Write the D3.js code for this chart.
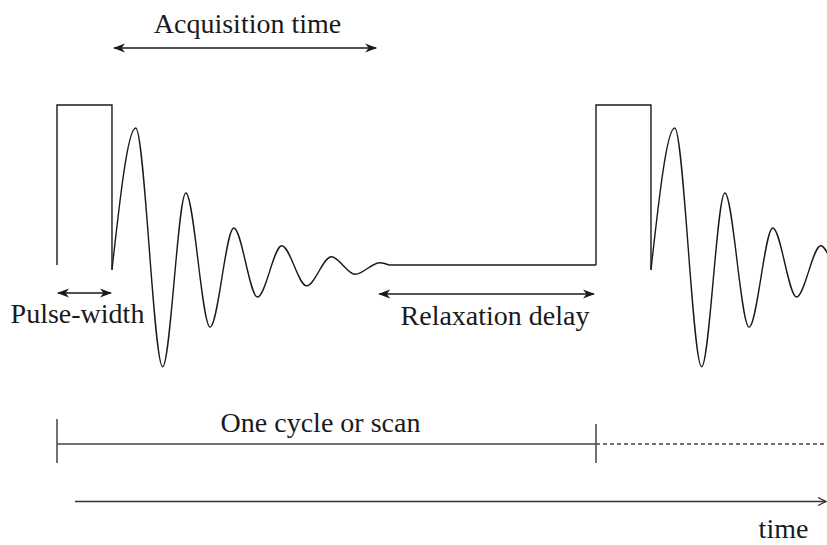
<!DOCTYPE html>
<html><head><meta charset="utf-8">
<script src="https://cdn.jsdelivr.net/npm/d3@7"></script>
<style>html,body{margin:0;padding:0;background:#fff;} svg{display:block;}</style>
</head><body>
<svg id="chart" width="827" height="545"></svg>
<script>
// ---- data (time in arbitrary units, one scan = 100; amplitude relative to pulse height = 1) ----
const cycleLength = 100;
const pulseWidth = 10.2;
const pulseHeight = 1;
const cycles = [0, 1];
const fidTimes = [10.2, 14.6, 19.6, 23.9, 28.4, 32.8, 37.2, 41.7, 46.3, 50.9, 55.3, 59.9, 61.6];
const fidAmps  = [-0.03, 0.856, -0.636, 0.45, -0.388, 0.231, -0.2, 0.12, -0.13, 0.052, -0.058, 0.014, 0];
const spanLabels = ["Acquisition time", "Pulse-width", "Relaxation delay"];
const spanFrom   = [10.4, 0, 59.6];
const spanTo     = [59.4, 10.2, 99.8];
const cycleLabel = "One cycle or scan";
const timeLabel = "time";

// ---- layout ----
const W = 827, H = 545;
const svg = d3.select("#chart");
const x = d3.scaleLinear().domain([0, cycleLength]).range([57, 596]);
const y = d3.scaleLinear().domain([0, pulseHeight]).range([265, 105]);
const ink = "#1a1a1a";
const font = "'Liberation Serif','Times New Roman',serif";

const defs = svg.append("defs");
defs.append("marker").attr("id", "arr")
  .attr("viewBox", "0 -5 12 10").attr("refX", 11).attr("refY", 0)
  .attr("markerUnits", "userSpaceOnUse").attr("markerWidth", 12).attr("markerHeight", 10)
  .attr("orient", "auto-start-reverse")
  .append("path").attr("d", "M0,-4.5L12,0L0,4.5L3.5,0Z").attr("fill", ink);
defs.append("marker").attr("id", "openarr")
  .attr("viewBox", "0 -5 9 10").attr("refX", 8).attr("refY", 0)
  .attr("markerUnits", "userSpaceOnUse").attr("markerWidth", 9).attr("markerHeight", 10)
  .attr("orient", "auto")
  .append("path").attr("d", "M0,-4L8,0L0,4").attr("fill", "none").attr("stroke", "#333").attr("stroke-width", 1.2);

const lin = d3.line().x(d => x(d[0])).y(d => y(d[1]));
const smooth = d3.line().x(d => x(d[0])).y(d => y(d[1])).curve(d3.curveMonotoneX);
const fid = fidTimes.map((t, i) => [t, fidAmps[i]]);

cycles.forEach(k => {
  const t0 = k * cycleLength;
  // RF pulse
  svg.append("path")
    .attr("d", lin([[t0, 0], [t0, pulseHeight], [t0 + pulseWidth, pulseHeight], [t0 + pulseWidth, fidAmps[0]]]))
    .attr("fill", "none").attr("stroke", ink).attr("stroke-width", 1.4);
  // FID
  svg.append("path")
    .attr("d", smooth(fid.map(d => [d[0] + t0, d[1]])))
    .attr("fill", "none").attr("stroke", ink).attr("stroke-width", 1.4);
  // relaxation baseline
  svg.append("path")
    .attr("d", lin([[t0 + fidTimes[fidTimes.length - 1], 0], [t0 + cycleLength, 0]]))
    .attr("fill", "none").attr("stroke", ink).attr("stroke-width", 1.4);
});

// span arrows
const arrowY = [48, 293, 294];
const labelX = [247.5, 77.5, 495];
const labelY = [33, 323, 325];
spanLabels.forEach((lab, i) => {
  svg.append("line")
    .attr("x1", x(spanFrom[i]) + 1).attr("x2", x(spanTo[i]) - 1)
    .attr("y1", arrowY[i]).attr("y2", arrowY[i])
    .attr("stroke", ink).attr("stroke-width", 1.6)
    .attr("marker-start", "url(#arr)").attr("marker-end", "url(#arr)");
  svg.append("text").attr("x", labelX[i]).attr("y", labelY[i])
    .attr("text-anchor", "middle").attr("font-family", font).attr("font-size", 28)
    .attr("fill", ink).text(lab);
});

// one cycle bar
const cy = 444;
svg.append("line").attr("x1", x(0)).attr("x2", x(cycleLength)).attr("y1", cy).attr("y2", cy)
  .attr("stroke", "#444").attr("stroke-width", 1.5);
svg.append("line").attr("x1", x(cycleLength)).attr("x2", W).attr("y1", cy).attr("y2", cy)
  .attr("stroke", "#444").attr("stroke-width", 1.3).attr("stroke-dasharray", "4,3");
svg.append("line").attr("x1", x(0)).attr("x2", x(0)).attr("y1", 419).attr("y2", 463)
  .attr("stroke", "#444").attr("stroke-width", 1.5);
svg.append("line").attr("x1", x(cycleLength)).attr("x2", x(cycleLength)).attr("y1", 424).attr("y2", 463)
  .attr("stroke", "#444").attr("stroke-width", 1.5);
svg.append("text").attr("x", 320.5).attr("y", 432)
  .attr("text-anchor", "middle").attr("font-family", font).attr("font-size", 28)
  .attr("fill", ink).text(cycleLabel);

// time axis
svg.append("line").attr("x1", 75).attr("x2", 826).attr("y1", 501.5).attr("y2", 501.5)
  .attr("stroke", "#333").attr("stroke-width", 1.4).attr("marker-end", "url(#openarr)");
svg.append("text").attr("x", 783.5).attr("y", 538)
  .attr("text-anchor", "middle").attr("font-family", font).attr("font-size", 28)
  .attr("fill", ink).text(timeLabel);
</script>
</body></html>
